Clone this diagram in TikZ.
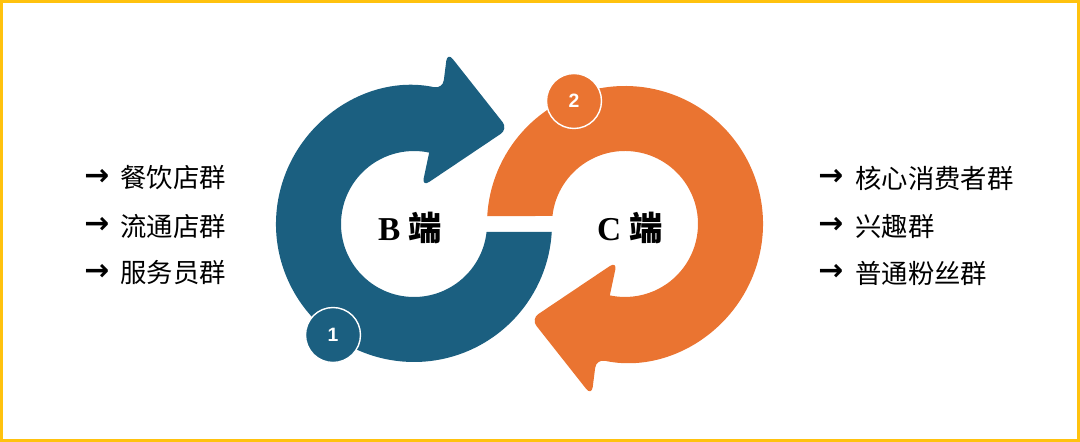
\documentclass[tikz,border=0pt]{standalone}
\usepackage{fontspec}
\setmainfont{Liberation Serif}
\setsansfont{Liberation Sans}
\newfontfamily\cjk{Noto Sans CJK SC}
\newfontfamily\symb{DejaVu Sans}
\usepackage{xcolor}
\usetikzlibrary{positioning}

\definecolor{ringblue}{HTML}{1B5F80}
\definecolor{ringorange}{HTML}{EA7431}
\definecolor{frameyellow}{HTML}{FFC20E}

\begin{document}
\begin{tikzpicture}[
    x=0.02cm, y=0.02cm,
    item/.style={anchor=west, inner sep=0pt, font=\fontsize{15}{18}\selectfont\cjk},
    itemarrow/.style={anchor=west, inner sep=0pt, font=\fontsize{17}{18}\selectfont\symb\bfseries},
    hublabel/.style={inner sep=0pt, font=\fontsize{19}{22}\selectfont\bfseries},
    badge/.style={circle, draw=white, line width=0.8pt, minimum size=1.1cm, inner sep=0pt, text=white, font=\fontsize{11}{13}\selectfont\sffamily\bfseries},
]
    \useasboundingbox (0,0) rectangle (1080,442);

    % ===== FRAME =====
    \draw[frameyellow, line width=1.7pt] (1.5,1.5) rectangle (1078.5,440.5);

    % ===== B LOOP (blue) =====
    \begin{scope}[shift={(414,218)}]
        \fill[ringblue] (78:138) arc[start angle=78, end angle=356.7, radius=138]
            -- (353.7:73) arc[start angle=353.7, end angle=78, radius=73]
            [rounded corners=5pt] -- (78:38) -- (94,95) -- (79:175) -- cycle;
    \end{scope}

    % ===== C LOOP (orange, same shape turned round) =====
    \begin{scope}[shift={(625,218)}, rotate=180]
        \fill[ringorange] (78:138) arc[start angle=78, end angle=356.7, radius=138]
            -- (353.7:73) arc[start angle=353.7, end angle=78, radius=73]
            [rounded corners=5pt] -- (78:38) -- (94,95) -- (79:175) -- cycle;
    \end{scope}

    % Step badges
    \node[badge, fill=ringblue] (one) at (333,107) {1};
    \node[badge, fill=ringorange] (two) at (574,341) {2};

    % Hub labels
    \node[hublabel] (bside) at (410,214) {B {\cjk 端}};
    \node[hublabel] (cside) at (630,214) {C {\cjk 端}};

    % ===== LEFT LIST =====
    \node[itemarrow] (la1) at (84,265) {→};
    \node[item] (l1) at (120,264) {餐饮店群};
    \node[itemarrow] (la2) at (84,217) {→};
    \node[item] (l2) at (120,216) {流通店群};
    \node[itemarrow] (la3) at (84,170) {→};
    \node[item] (l3) at (120,169) {服务员群};

    % ===== RIGHT LIST =====
    \node[itemarrow] (ra1) at (818,265) {→};
    \node[item] (r1) at (855,264) {核心消费者群};
    \node[itemarrow] (ra2) at (818,217) {→};
    \node[item] (r2) at (855,216) {兴趣群};
    \node[itemarrow] (ra3) at (818,170) {→};
    \node[item] (r3) at (855,169) {普通粉丝群};

\end{tikzpicture}
\end{document}
